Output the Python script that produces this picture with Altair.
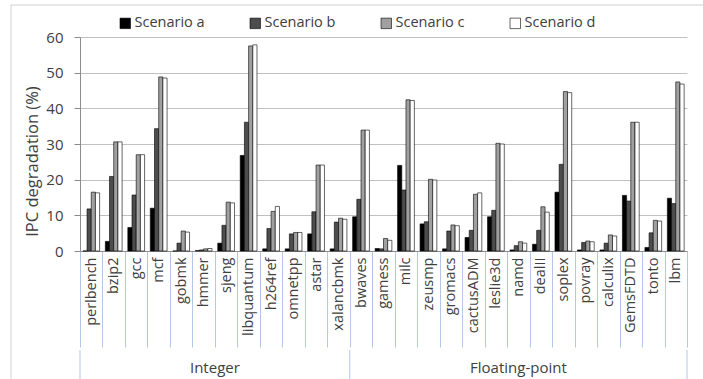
import altair as alt
import pandas as pd

# SPEC CPU2006 benchmarks, grouped by suite
benchmarks = [
    "perlbench", "bzip2", "gcc", "mcf", "gobmk", "hmmer", "sjeng", "libquantum",
    "h264ref", "omnetpp", "astar", "xalancbmk",
    "bwaves", "gamess", "milc", "zeusmp", "gromacs", "cactusADM", "leslie3d",
    "namd", "dealII", "soplex", "povray", "calculix", "GemsFDTD", "tonto", "lbm",
]
suites = ["Integer"] * 12 + ["Floating-point"] * 15
scenarios = ["Scenario a", "Scenario b", "Scenario c", "Scenario d"]

# IPC degradation (%) per benchmark
scenario_a = [0.0, 2.7, 6.6, 12.0, 0.0, 0.1, 2.2, 26.8, 0.6, 0.6, 4.8, 0.6,
              9.6, 0.7, 24.0, 7.6, 0.6, 3.8, 9.6, 0.3, 1.9, 16.5, 0.3, 0.3, 15.6, 1.0, 14.8]
scenario_b = [11.8, 20.9, 15.7, 34.3, 2.2, 0.3, 7.2, 36.1, 6.3, 4.8, 11.0, 8.1,
              14.5, 0.6, 17.1, 8.2, 5.6, 5.8, 11.4, 1.5, 5.8, 24.3, 2.4, 2.2, 14.0, 5.1, 13.3]
scenario_c = [16.5, 30.6, 27.0, 48.8, 5.6, 0.6, 13.7, 57.5, 11.1, 5.2, 24.1, 9.2,
              33.9, 3.5, 42.4, 20.1, 7.3, 15.9, 30.2, 2.6, 12.4, 44.7, 2.8, 4.5, 36.1, 8.6, 47.4]
scenario_d = [16.3, 30.6, 27.0, 48.5, 5.3, 0.7, 13.5, 57.8, 12.5, 5.2, 24.1, 8.9,
              33.9, 3.0, 42.2, 19.9, 7.1, 16.3, 30.0, 2.2, 10.9, 44.4, 2.6, 4.2, 36.1, 8.4, 46.8]

fill_colors = ["#000000", "#4d4d4d", "#a0a0a0", "#ffffff"]

rows = []
for i, bench in enumerate(benchmarks):
    for name, series in zip(scenarios, [scenario_a, scenario_b, scenario_c, scenario_d]):
        rows.append({"benchmark": bench, "suite": suites[i], "scenario": name, "value": series[i]})
df = pd.DataFrame(rows)

FONT = "Open Sans"
TEXT = "#404040"

x_scale = alt.Scale(domain=benchmarks, paddingInner=0, paddingOuter=0)

bars = alt.Chart(df).mark_bar(stroke="#000000", strokeWidth=0.6).encode(
    x=alt.X(
        "benchmark:N",
        scale=x_scale,
        sort=benchmarks,
        title=None,
        axis=alt.Axis(
            labelAngle=270,
            labelFontSize=14.5,
            labelColor=TEXT,
            labelFont=FONT,
            labelPadding=-90,
            tickBand="extent",
            tickSize=96,
            tickColor="#b4c7e7",
            tickWidth=1,
            domainColor="#8c8c8c",
            labelOverlap=False,
        ),
    ),
    xOffset=alt.XOffset(
        "scenario:N",
        sort=scenarios,
        scale=alt.Scale(domain=scenarios, paddingInner=0, paddingOuter=0.68),
    ),
    y=alt.Y(
        "value:Q",
        scale=alt.Scale(domain=[0, 60], nice=False),
        title="IPC degradation (%)",
        axis=alt.Axis(
            values=[0, 10, 20, 30, 40, 50, 60],
            labelFontSize=15,
            labelColor=TEXT,
            labelFont=FONT,
            labelPadding=11,
            tickSize=6,
            tickColor="#8c8c8c",
            domainColor="#8c8c8c",
            gridColor="#c0c0c0",
            titleFontSize=16.5,
            titleFont=FONT,
            titleFontWeight="normal",
            titleColor=TEXT,
            titlePadding=5,
            titleY=124,
        ),
    ),
    color=alt.Color(
        "scenario:N",
        sort=scenarios,
        scale=alt.Scale(domain=scenarios, range=fill_colors),
        legend=alt.Legend(
            title=None,
            orient="none",
            direction="horizontal",
            legendX=38,
            legendY=-21,
            symbolType="square",
            symbolSize=110,
            symbolStrokeColor="#000000",
            symbolStrokeWidth=0.6,
            symbolOpacity=1,
            labelFontSize=14.5,
            labelFont=FONT,
            labelColor=TEXT,
            labelOffset=2,
            columnPadding=43,
        ),
    ),
)

# Suite captions under the benchmark names
suite_int = pd.DataFrame({"suite": ["Integer"], "anchor": ["hmmer"]})
suite_fp = pd.DataFrame({"suite": ["Floating-point"], "anchor": ["namd"]})

int_label = alt.Chart(suite_int).mark_text(
    fontSize=15, font=FONT, color=TEXT, baseline="middle"
).encode(
    x=alt.X("anchor:N", scale=x_scale, sort=benchmarks, bandPosition=1),
    y=alt.value(331),
    text="suite:N",
)
fp_label = alt.Chart(suite_fp).mark_text(
    fontSize=15, font=FONT, color=TEXT, baseline="middle"
).encode(
    x=alt.X("anchor:N", scale=x_scale, sort=benchmarks, bandPosition=0.5),
    y=alt.value(331),
    text="suite:N",
)

# Suite boundary lines extending below the category ticks
starts = pd.DataFrame({"anchor": ["perlbench", "bwaves"]})
ends = pd.DataFrame({"anchor": ["lbm"]})
start_rules = alt.Chart(starts).mark_rule(color="#b4c7e7", strokeWidth=1).encode(
    x=alt.X("anchor:N", scale=x_scale, sort=benchmarks, bandPosition=0),
    y=alt.value(313),
    y2=alt.value(342),
)
end_rules = alt.Chart(ends).mark_rule(color="#b4c7e7", strokeWidth=1).encode(
    x=alt.X("anchor:N", scale=x_scale, sort=benchmarks, bandPosition=1),
    y=alt.value(313),
    y2=alt.value(342),
)

# Outer chart frame
frame_left = alt.Chart(pd.DataFrame({"k": [0]})).mark_rule(color="#d0d0d0").encode(
    x=alt.value(-69), y=alt.value(-32), y2=alt.value(342)
)
frame_top = alt.Chart(pd.DataFrame({"k": [0]})).mark_rule(color="#d0d0d0").encode(
    x=alt.value(-69), x2=alt.value(623), y=alt.value(-32)
)

chart = alt.layer(
    frame_left, frame_top, bars, int_label, fp_label, start_rules, end_rules
).properties(
    width=607,
    height=214,
    autosize=alt.AutoSizeParams(type="none"),
    padding={"left": 80, "top": 37, "right": 16, "bottom": 128},
    background="white",
).configure_view(stroke=None)

chart.save("out.html", embed_options={"renderer": "svg", "actions": False})
